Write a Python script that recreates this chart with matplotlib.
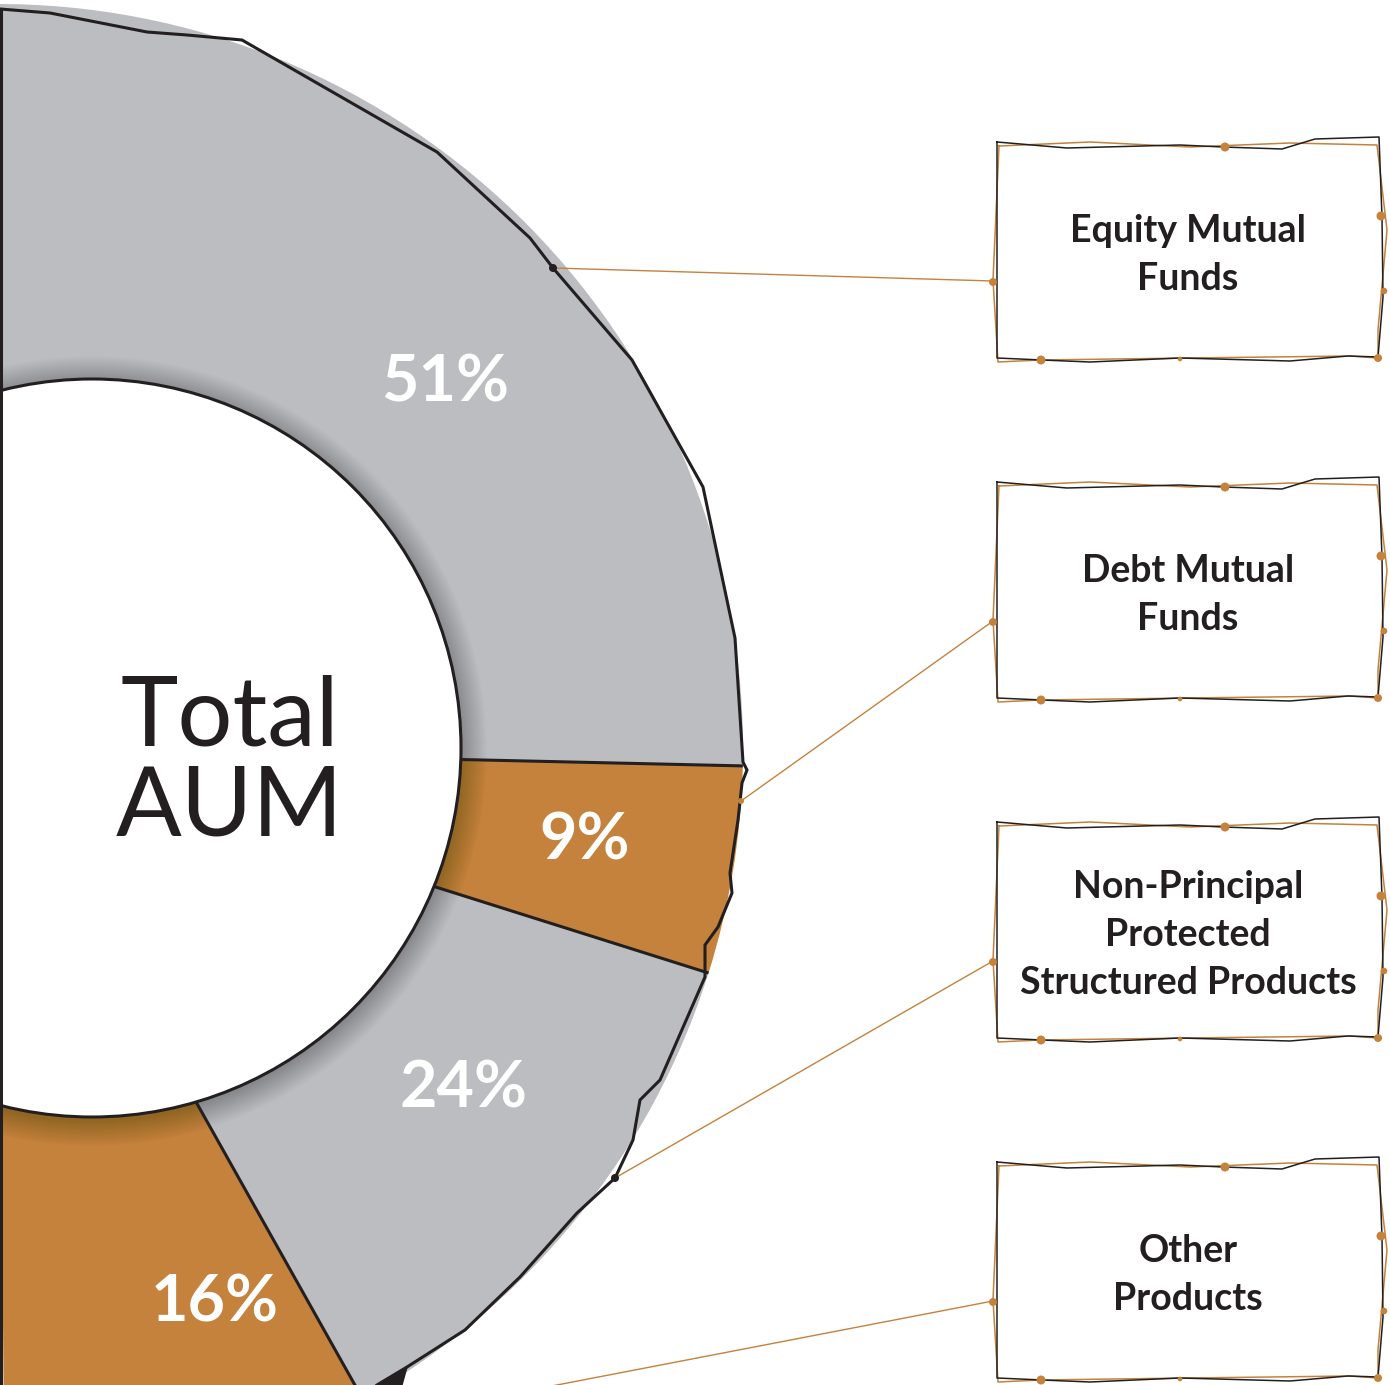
import matplotlib.pyplot as plt
from matplotlib.patches import Circle, Polygon
import numpy as np

W, H = 1390, 1385

# data
categories = ['Equity Mutual\nFunds', 'Debt Mutual\nFunds',
              'Non-Principal\nProtected\nStructured Products', 'Other\nProducts']
shares = [51, 9, 24, 16]
pct_labels = ['51%', '9%', '24%', '16%']

GRAY = '#bcbdc0'
ORANGE = '#c4823c'
INK = '#231f20'
colors = [GRAY, ORANGE, GRAY, ORANGE]

plt.rcParams['font.family'] = ['Lato', 'DejaVu Sans']

fig = plt.figure(figsize=(W / 100, H / 100), dpi=100)
ax = fig.add_axes([0, 0, 1, 1])

# half donut, right side only; y axis is flipped below so startangle=-90 is the top
cx, cy, R = -2, 749, 745
wedges, _ = ax.pie([s / 200 for s in shares], colors=colors, startangle=-90.5,
                   counterclock=True, normalize=False, center=(cx, cy), radius=R,
                   wedgeprops=dict(linewidth=0))
ax.set_xlim(0, W)
ax.set_ylim(H, 0)
ax.set_aspect('equal')
ax.axis('off')

# segment borders
for w in wedges[:-1]:
    t = np.deg2rad(w.theta2)
    ax.plot([cx, cx + R * np.cos(t)], [cy, cy + R * np.sin(t)], color=INK, lw=2.2,
            zorder=2.5, solid_capstyle='butt')

# hole with soft shadow
icx, icy, ir = 92, 748, 369
for k in range(26):
    ax.add_patch(Circle((icx, icy + 3), ir + 26 - k, color='black', alpha=0.009,
                        lw=0, zorder=2))
ax.add_patch(Circle((icx, icy), ir, facecolor='white', edgecolor=INK, lw=2.2, zorder=3))

# hand drawn outline around the donut
ox = [0, 50, 147, 187, 242, 437, 530, 553, 632, 703, 735, 743, 747, 742, 740,
      738, 730, 732, 718, 705, 705, 660, 640, 633, 615, 577, 520, 465, 407, 377]
oy = [9, 13, 32, 35, 40, 152, 238, 268, 360, 487, 638, 762, 770, 783, 802,
      820, 873, 893, 927, 945, 977, 1080, 1100, 1140, 1178, 1213, 1277, 1330, 1367, 1385]
ax.plot(ox, oy, color=INK, lw=2.2, zorder=4, solid_joinstyle='miter')
ax.plot([0.8, 0.8], [9, H], color=INK, lw=2.2, zorder=4)
ax.add_patch(Polygon([(377, 1385), (407, 1367), (402, 1385)], closed=True,
                     facecolor=INK, edgecolor=INK, lw=1, zorder=4))

# center title
ax.text(230, 745, 'Total', ha='center', va='baseline', fontsize=70, color=INK, zorder=5)
ax.text(230, 835, 'AUM', ha='center', va='baseline', fontsize=70, color=INK, zorder=5)

# percent labels
pct_pos = [(445, 402), (585, 860), (463, 1107), (215, 1322)]
for (x, y), s in zip(pct_pos, pct_labels):
    ax.text(x, y, s, ha='center', va='baseline', fontsize=46.5, fontweight='bold',
            color='white', zorder=5)

# sketchy boxes
bx0 = 997
box_tops = [142, 482, 822, 1162]
blk = [(0, 0), (70, 6), (183, 3), (226, 5), (285, 7), (318, -3), (382, -5), (385, 75),
       (386, 155), (381, 215), (351, 214), (293, 219), (183, 216), (93, 220),
       (45, 218), (0, 216), (0, 0)]
org = [(2, 4), (93, 0), (193, 5), (293, 1), (380, 3), (390, 88), (381, 188),
       (381, 216), (353, 214), (193, 216), (43, 218), (1, 220), (-4, 138), (2, 4)]
dots = [(228, 5, 4.5), (384, 74, 4.5), (387, 149, 3.3), (381, 216, 4),
        (183, 217, 2.3), (44, 218, 4.5), (-4, 140, 4)]

for y0, name in zip(box_tops, categories):
    ax.plot([bx0 + p[0] for p in org], [y0 + p[1] for p in org], color=ORANGE,
            lw=1.1, zorder=4)
    ax.plot([bx0 + p[0] for p in blk], [y0 + p[1] for p in blk], color=INK,
            lw=1.1, zorder=4)
    for dx, dy, r in dots:
        ax.add_patch(Circle((bx0 + dx, y0 + dy), r, color=ORANGE, lw=0, zorder=5))
    lines = name.split('\n')
    n = len(lines)
    yc = y0 + 111
    for i, line in enumerate(lines):
        ax.text(1188, yc + (i - (n - 1) / 2) * 48 + 12.5, line, ha='center',
                va='baseline', fontsize=27, fontweight='bold', color=INK, zorder=5)

# leader lines from the donut to the boxes
starts = [(553, 268), (741, 801), (615, 1178), (505, 1395)]
for (sx, sy), y0 in zip(starts, box_tops):
    ax.plot([sx, bx0 - 4], [sy, y0 + 139], color=ORANGE, lw=1.0, zorder=3.5)
ax.add_patch(Circle((553, 268), 4, color=INK, lw=0, zorder=6))
ax.add_patch(Circle((615, 1178), 4, color=INK, lw=0, zorder=6))
ax.add_patch(Circle((741, 801), 3, color=ORANGE, lw=0, zorder=6))

fig.savefig('out.png', dpi=100)
